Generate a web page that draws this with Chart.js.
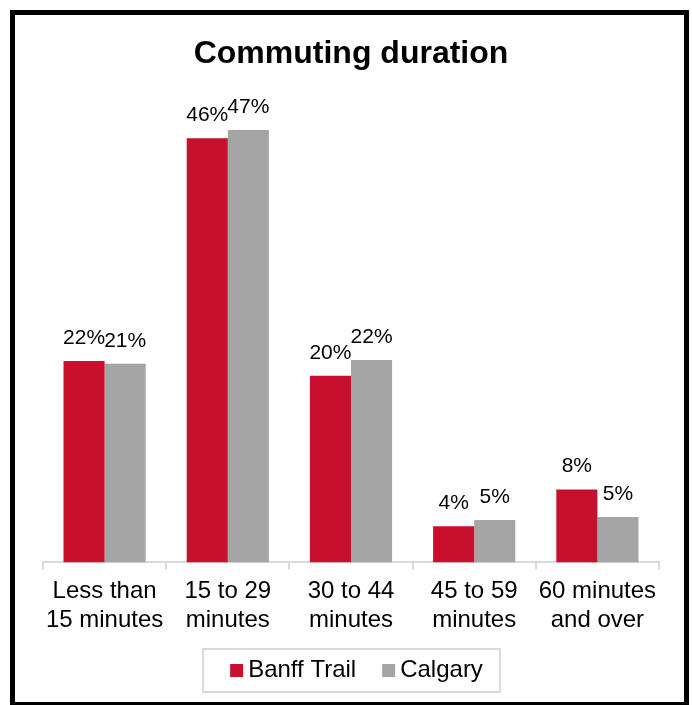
<!DOCTYPE html>
<html>
<head>
<meta charset="utf-8">
<script src="https://cdn.jsdelivr.net/npm/chart.js@4.4.0/dist/chart.umd.min.js"></script>
<style>
  body { margin: 0; background: #fff; }
  #wrap { position: relative; width: 692px; height: 705px; overflow: hidden; }
  #frame { position: absolute; left: 10px; top: 10px; width: 679px; height: 697px;
           border: 5px solid #000; box-sizing: border-box; pointer-events: none; }
  canvas { position: absolute; left: 0; top: 0; }
</style>
</head>
<body>
<div id="wrap">
  <canvas id="myChart" width="692" height="705"></canvas>
  <div id="frame"></div>
</div>
<script>
// data block
const categories = [
  ["Less than", "15 minutes"],
  ["15 to 29", "minutes"],
  ["30 to 44", "minutes"],
  ["45 to 59", "minutes"],
  ["60 minutes", "and over"],
];
const banffTrail = [21.8, 45.9, 20.2, 3.9, 7.9];
const calgary = [21.5, 46.8, 21.9, 4.6, 4.9];
const banffLabels = ["22%", "46%", "20%", "4%", "8%"];
const calgaryLabels = ["21%", "47%", "22%", "5%", "5%"];
const colors = ["#C8102E", "#A5A5A5"];

const FONT = "'Liberation Sans', Arial, sans-serif";

// plugin - value labels above bars
const valueLabels = {
  id: "valueLabels",
  afterDatasetsDraw(chart) {
    const ctx = chart.ctx;
    const texts = [banffLabels, calgaryLabels];
    ctx.save();
    ctx.font = "21px " + FONT;
    ctx.fillStyle = "#000";
    ctx.textAlign = "center";
    ctx.textBaseline = "middle";
    chart.data.datasets.forEach((ds, i) => {
      chart.getDatasetMeta(i).data.forEach((bar, j) => {
        ctx.fillText(texts[i][j], bar.x, bar.y - 23);
      });
    });
    ctx.restore();
  },
};

// plugin - legend squares close to text + box round the legend
const legendBox = {
  id: "legendBox",
  afterDraw(chart) {
    const lg = chart.legend;
    if (!lg || !lg.legendHitBoxes.length) return;
    const boxes = lg.legendHitBoxes;
    const ctx = chart.ctx;
    ctx.save();
    boxes.forEach((hb, i) => {
      ctx.fillStyle = colors[i];
      ctx.fillRect(hb.left + 11, hb.top + hb.height / 2 - 6, 13, 13);
    });
    const last = boxes[boxes.length - 1];
    const left = boxes[0].left - 16;
    const right = last.left + last.width + 17;
    const cy = boxes[0].top + boxes[0].height / 2;
    ctx.strokeStyle = "#D9D9D9";
    ctx.lineWidth = 2;
    ctx.strokeRect(left, cy - 21, right - left, 43);
    ctx.restore();
  },
};

// config block
const config = {
  type: "bar",
  data: {
    labels: categories,
    datasets: [
      {
        label: "Banff Trail",
        data: banffTrail,
        backgroundColor: colors[0],
        categoryPercentage: 0.667,
        barPercentage: 1.0,
      },
      {
        label: "Calgary",
        data: calgary,
        backgroundColor: colors[1],
        categoryPercentage: 0.667,
        barPercentage: 1.0,
      },
    ],
  },
  options: {
    responsive: false,
    animation: false,
    layout: { padding: { left: 43, right: 33, top: 0, bottom: 13 } },
    scales: {
      x: {
        grid: {
          display: true,
          drawOnChartArea: false,
          color: "#D9D9D9",
          lineWidth: 2,
          tickLength: 7,
        },
        border: { color: "#D9D9D9", width: 2 },
        ticks: {
          color: "#000",
          font: { family: FONT, size: 24 },
          maxRotation: 0,
          autoSkip: false,
          padding: 8,
        },
      },
      y: { display: false, min: 0, max: 50 },
    },
    plugins: {
      title: {
        display: true,
        text: "Commuting duration",
        color: "#000",
        font: { family: FONT, size: 32, weight: "bold" },
        padding: { top: 35, bottom: 27 },
      },
      legend: {
        position: "bottom",
        labels: {
          color: "#000",
          font: { family: FONT, size: 24 },
          boxWidth: 17,
          boxHeight: 13,
          padding: 15,
          generateLabels(chart) {
            const items = Chart.defaults.plugins.legend.labels.generateLabels(chart);
            items.forEach((it) => {
              it.fillStyle = "rgba(0,0,0,0)";
              it.strokeStyle = "rgba(0,0,0,0)";
              it.lineWidth = 0;
            });
            return items;
          },
        },
      },
      tooltip: { enabled: false },
    },
  },
  plugins: [valueLabels, legendBox],
};

// render init block
const myChart = new Chart(document.getElementById("myChart"), config);
</script>
</body>
</html>
